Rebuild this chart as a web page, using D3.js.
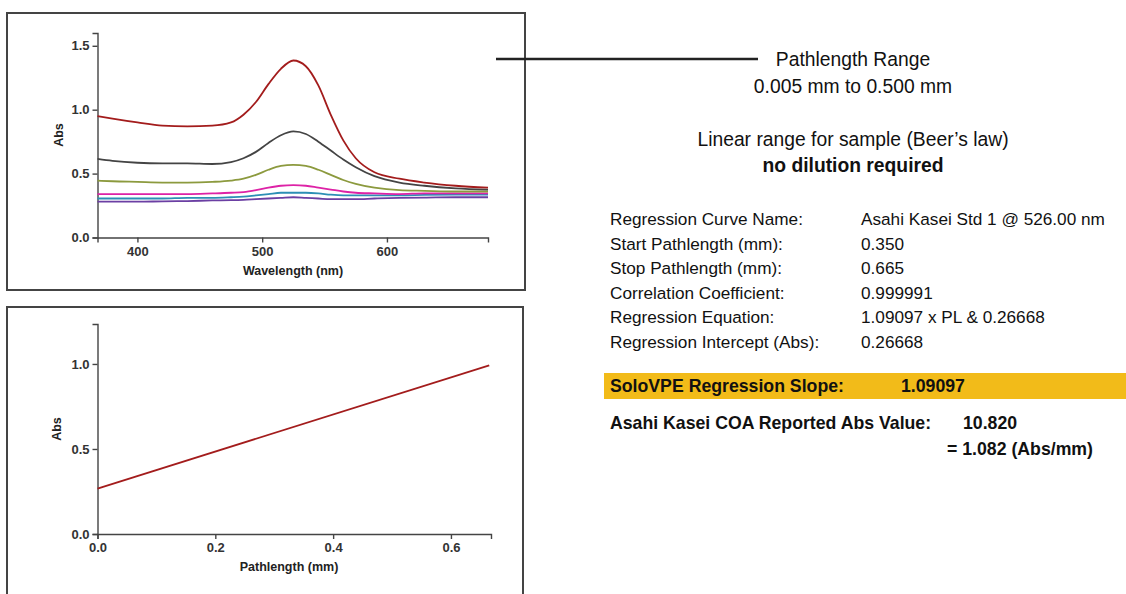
<!DOCTYPE html>
<html>
<head>
<meta charset="utf-8">
<script src="https://cdn.jsdelivr.net/npm/d3@7"></script>
<style>
  body { margin: 0; background: #fff; }
  svg { display: block; font-family: "Liberation Sans", Arial, sans-serif; }
  .axis path, .axis line { stroke: #444; stroke-width: 1.4; }
  .axis text { font-size: 13px; font-weight: bold; fill: #333; font-family: "Liberation Sans", Arial, sans-serif; }
  .axis-label { font-size: 12.5px; font-weight: bold; fill: #222; }
</style>
</head>
<body>
<div id="chart"></div>
<script>
// Spectra (top panel): wavelength in nm, absorbance per pathlength
const wavelengths = [368, 380, 400, 420, 440, 460, 475, 485, 495, 505, 515, 525, 535, 545, 555, 565, 575, 590, 610, 630, 655, 681];
const absRed     = [0.95, 0.93, 0.90, 0.875, 0.87, 0.875, 0.90, 0.96, 1.06, 1.20, 1.32, 1.385, 1.34, 1.19, 0.96, 0.76, 0.62, 0.51, 0.46, 0.43, 0.405, 0.39];
const absGray    = [0.615, 0.60, 0.585, 0.58, 0.58, 0.575, 0.59, 0.62, 0.67, 0.74, 0.80, 0.83, 0.81, 0.75, 0.68, 0.61, 0.55, 0.48, 0.43, 0.405, 0.385, 0.375];
const absGreen   = [0.445, 0.44, 0.435, 0.43, 0.43, 0.435, 0.445, 0.46, 0.49, 0.53, 0.56, 0.568, 0.56, 0.53, 0.49, 0.45, 0.42, 0.39, 0.37, 0.365, 0.36, 0.36];
const absMagenta = [0.34, 0.34, 0.34, 0.34, 0.34, 0.345, 0.35, 0.355, 0.37, 0.39, 0.405, 0.41, 0.405, 0.39, 0.375, 0.36, 0.35, 0.345, 0.34, 0.345, 0.345, 0.345];
const absTeal    = [0.305, 0.305, 0.305, 0.305, 0.31, 0.31, 0.315, 0.32, 0.33, 0.34, 0.35, 0.35, 0.35, 0.345, 0.335, 0.33, 0.33, 0.33, 0.33, 0.333, 0.335, 0.335];
const absPurple  = [0.28, 0.28, 0.28, 0.283, 0.285, 0.29, 0.292, 0.295, 0.30, 0.305, 0.31, 0.315, 0.31, 0.305, 0.30, 0.30, 0.30, 0.305, 0.31, 0.312, 0.315, 0.315];
const spectra = [
  { name: "purple", color: "#6b3fa3", values: absPurple },
  { name: "teal", color: "#2d8fb5", values: absTeal },
  { name: "magenta", color: "#dd22a6", values: absMagenta },
  { name: "green", color: "#8c9a3e", values: absGreen },
  { name: "gray", color: "#444444", values: absGray },
  { name: "red", color: "#a31c1c", values: absRed }
];
const wlTicks = [400, 500, 600];
const absTicksTop = [0, 0.5, 1.0, 1.5];

// Regression line (bottom panel)
const pathlengths = [0.0, 0.665];
const absFit = [0.267, 0.992];
const plTicks = [0, 0.2, 0.4, 0.6];
const absTicksBottom = [0, 0.5, 1.0];

// Text panel
const rangeLines = ["Pathlength Range", "0.005 mm to 0.500 mm"];
const beerLines = ["Linear range for sample (Beer\u2019s law)", "no dilution required"];
const regLabels = ["Regression Curve Name:", "Start Pathlength (mm):", "Stop Pathlength (mm):", "Correlation Coefficient:", "Regression Equation:", "Regression Intercept (Abs):"];
const regValues = ["Asahi Kasei Std 1 @ 526.00 nm", "0.350", "0.665", "0.999991", "1.09097 x PL & 0.26668", "0.26668"];
const slopeText = ["SoloVPE Regression Slope:", "1.09097"];
const coaText = ["Asahi Kasei COA Reported Abs Value:", "10.820", "= 1.082 (Abs/mm)"];

const W = 1126, H = 594;
const svg = d3.select("#chart").append("svg").attr("width", W).attr("height", H);
svg.append("rect").attr("width", W).attr("height", H).attr("fill", "#fff");

// panel frames
svg.append("rect").attr("x", 7).attr("y", 13).attr("width", 518).attr("height", 277)
  .attr("fill", "none").attr("stroke", "#444").attr("stroke-width", 2);
svg.append("rect").attr("x", 7).attr("y", 307).attr("width", 516).attr("height", 300)
  .attr("fill", "none").attr("stroke", "#444").attr("stroke-width", 2);

// ---- top: spectra ----
const x1 = d3.scaleLinear().domain([368, 681]).range([97.5, 488]);
const y1 = d3.scaleLinear().domain([0, 1.6]).range([237.5, 33]);

svg.append("g").attr("class", "axis")
  .attr("transform", "translate(0,237.5)")
  .call(d3.axisBottom(x1).tickValues(wlTicks).tickSizeOuter(0).tickSize(5).tickPadding(4));
svg.append("g").attr("class", "axis")
  .attr("transform", "translate(97.5,0)")
  .call(d3.axisLeft(y1).tickValues(absTicksTop).tickFormat(d3.format(".1f")).tickSizeOuter(0).tickSize(5).tickPadding(3));

const line1 = d3.line()
  .x((d, i) => x1(wavelengths[i]))
  .y(d => y1(d))
  .curve(d3.curveMonotoneX);

svg.selectAll(".spec")
  .data(spectra)
  .enter()
  .append("path")
  .attr("class", "spec")
  .attr("d", d => line1(d.values))
  .attr("fill", "none")
  .attr("stroke", d => d.color)
  .attr("stroke-width", 1.8);

svg.append("text").attr("class", "axis-label")
  .attr("x", 293).attr("y", 275).attr("text-anchor", "middle")
  .text("Wavelength (nm)");
svg.append("text").attr("class", "axis-label")
  .attr("transform", "translate(63,135) rotate(-90)").attr("text-anchor", "middle")
  .text("Abs");

// ---- bottom: regression ----
const x2 = d3.scaleLinear().domain([0, 0.668]).range([97.5, 491]);
const y2 = d3.scaleLinear().domain([0, 1.235]).range([534, 324]);

svg.append("g").attr("class", "axis")
  .attr("transform", "translate(0,534)")
  .call(d3.axisBottom(x2).tickValues(plTicks).tickFormat(d3.format(".1f")).tickSizeOuter(0).tickSize(5).tickPadding(4));
svg.append("g").attr("class", "axis")
  .attr("transform", "translate(97.5,0)")
  .call(d3.axisLeft(y2).tickValues(absTicksBottom).tickFormat(d3.format(".1f")).tickSizeOuter(0).tickSize(5).tickPadding(3));

const line2 = d3.line()
  .x((d, i) => x2(pathlengths[i]))
  .y(d => y2(d));

svg.append("path")
  .attr("d", line2(absFit))
  .attr("fill", "none")
  .attr("stroke", "#a31c1c")
  .attr("stroke-width", 1.8);

svg.append("text").attr("class", "axis-label")
  .attr("x", 289).attr("y", 571).attr("text-anchor", "middle")
  .text("Pathlength (mm)");
svg.append("text").attr("class", "axis-label")
  .attr("transform", "translate(61,429) rotate(-90)").attr("text-anchor", "middle")
  .text("Abs");

// ---- callout line + text ----
svg.append("line").attr("x1", 496).attr("x2", 758).attr("y1", 59).attr("y2", 59)
  .attr("stroke", "#222").attr("stroke-width", 2.5);

const cx = 853;
svg.selectAll(".range").data(rangeLines).enter().append("text")
  .attr("x", cx).attr("y", (d, i) => 66 + i * 26.5)
  .attr("text-anchor", "middle").style("font-size", "19.3px").attr("fill", "#111")
  .text(d => d);
svg.selectAll(".beer").data(beerLines).enter().append("text")
  .attr("x", cx).attr("y", (d, i) => 146 + i * 25.5)
  .attr("text-anchor", "middle").style("font-size", "19.3px")
  .style("font-weight", (d, i) => i === 1 ? "bold" : "normal").attr("fill", "#111")
  .text(d => d);

const rows = svg.selectAll(".reg").data(regLabels).enter().append("g")
  .attr("transform", (d, i) => `translate(0,${225 + i * 24.5})`);
rows.append("text").attr("x", 610).style("font-size", "17.2px").attr("fill", "#111").text(d => d);
rows.append("text").attr("x", 861).style("font-size", "17.2px").attr("fill", "#111").text((d, i) => regValues[i]);

// highlighted slope
svg.append("rect").attr("x", 604).attr("y", 373).attr("width", W - 604).attr("height", 26).attr("fill", "#f2bb19");
svg.append("text").attr("x", 610).attr("y", 392).style("font-size", "17.7px").style("font-weight", "bold")
  .attr("fill", "#111").text(slopeText[0]);
svg.append("text").attr("x", 901).attr("y", 392).style("font-size", "17.7px").style("font-weight", "bold")
  .attr("fill", "#111").text(slopeText[1]);

svg.append("text").attr("x", 610).attr("y", 429).style("font-size", "17.7px").style("font-weight", "bold")
  .attr("fill", "#111").text(coaText[0]);
svg.append("text").attr("x", 963).attr("y", 429).style("font-size", "17.7px").style("font-weight", "bold")
  .attr("fill", "#111").text(coaText[1]);
svg.append("text").attr("x", 947).attr("y", 455).style("font-size", "17.7px").style("font-weight", "bold")
  .attr("fill", "#111").text(coaText[2]);
</script>
</body>
</html>
